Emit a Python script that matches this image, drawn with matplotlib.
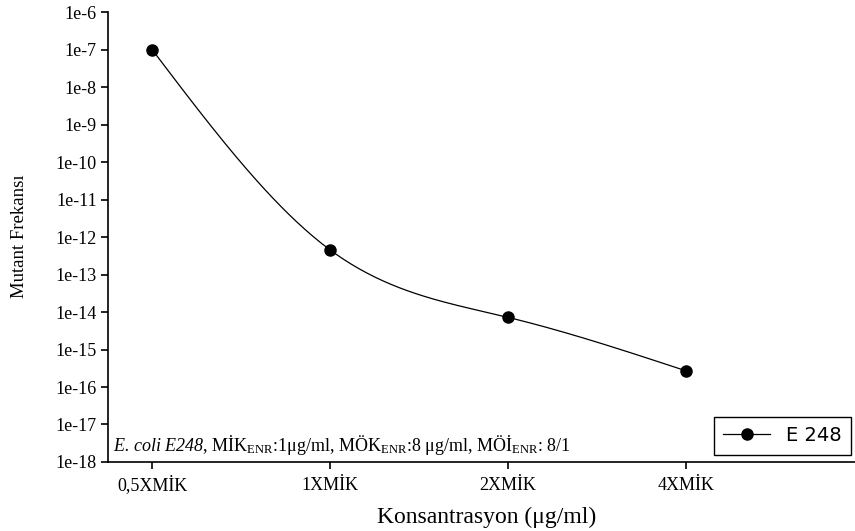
import numpy as np
import matplotlib
matplotlib.use('Agg')
import matplotlib.pyplot as plt
from matplotlib.ticker import FixedLocator, FixedFormatter

# data
konsantrasyon = ['0,5XMİK', '1XMİK', '2XMİK', '4XMİK']
frekans = [9.8e-8, 4.5e-13, 7.2e-15, 2.7e-16]
y_ticks = [10.0 ** -k for k in range(6, 19)]
y_labels = ['1e-%d' % k for k in range(6, 19)]


def natural_spline(x, y, n=200):
    # smooth connecting line (natural cubic spline) through the points
    x = np.asarray(x, float)
    y = np.asarray(y, float)
    m = len(x)
    h = np.diff(x)
    A = np.zeros((m, m))
    b = np.zeros(m)
    A[0, 0] = 1
    A[-1, -1] = 1
    for i in range(1, m - 1):
        A[i, i - 1] = h[i - 1]
        A[i, i] = 2 * (h[i - 1] + h[i])
        A[i, i + 1] = h[i]
        b[i] = 3 * ((y[i + 1] - y[i]) / h[i] - (y[i] - y[i - 1]) / h[i - 1])
    c = np.linalg.solve(A, b)
    xs = np.linspace(x[0], x[-1], n)
    ys = np.empty_like(xs)
    for j, xv in enumerate(xs):
        i = min(np.searchsorted(x, xv, side='right') - 1, m - 2)
        bi = (y[i + 1] - y[i]) / h[i] - h[i] * (2 * c[i] + c[i + 1]) / 3
        di = (c[i + 1] - c[i]) / (3 * h[i])
        t = xv - x[i]
        ys[j] = y[i] + bi * t + c[i] * t ** 2 + di * t ** 3
    return xs, ys


plt.rcParams['mathtext.fontset'] = 'custom'
plt.rcParams['mathtext.rm'] = 'Liberation Serif'
plt.rcParams['mathtext.it'] = 'Liberation Serif:italic'
# cal slot used for the italic strain name so that digits stay italic too
plt.rcParams['mathtext.cal'] = 'Liberation Serif:italic'

fig = plt.figure(figsize=(8.55, 5.31), dpi=100)
ax = fig.add_axes([0.1263, 0.130, 0.8737, 0.847])

xpos = np.arange(len(konsantrasyon))
xs, ys = natural_spline(xpos, np.log10(frekans))
ax.plot(xs, 10 ** ys, color='black', lw=0.9)
ax.plot(xpos, frekans, 'o', color='black', ms=8)
# legend handle
ax.plot([], [], '-o', color='black', lw=0.9, ms=8, label='E 248')

ax.set_yscale('log')
ax.set_ylim(1e-18, 1e-6)
ax.set_xlim(-0.25, 3.95)
ax.yaxis.set_major_locator(FixedLocator(y_ticks))
ax.yaxis.set_major_formatter(FixedFormatter(y_labels))
ax.yaxis.set_minor_locator(FixedLocator([]))
ax.set_xticks(xpos)
ax.set_xticklabels(konsantrasyon)

for s in ['top', 'right']:
    ax.spines[s].set_visible(False)
for s in ['left', 'bottom']:
    ax.spines[s].set_linewidth(1.2)
ax.tick_params(direction='out', length=5, width=1.2, labelsize=13, pad=3)
ax.tick_params(axis='x', pad=15)
for lab in ax.get_xticklabels():
    lab.set_va('baseline')
for lab in ax.get_xticklabels() + ax.get_yticklabels():
    lab.set_family('Liberation Serif')

ax.set_xlabel('Konsantrasyon (μg/ml)', family='Liberation Serif', fontsize=17, va='center')
ax.xaxis.set_label_coords((487 - 108) / 747, (462 - 517) / 450)
fig.text(20 / 855, 1 - 236 / 531, 'Mutant Frekansı', rotation=90, family='Liberation Serif',
         fontsize=13.5, ha='center', va='center')

ax.text(0.007, 0.012,
        r'$\mathcal{E.\,coli\ E248}$, MİK$_{\mathrm{ENR}}$:1μg/ml, MÖK$_{\mathrm{ENR}}$:8 μg/ml, MÖİ$_{\mathrm{ENR}}$: 8/1',
        transform=ax.transAxes, family='Liberation Serif', fontsize=13, ha='left', va='bottom')

leg = ax.legend(loc='lower right', bbox_to_anchor=(0.9946, 0.0156), fancybox=False,
                edgecolor='black', framealpha=1, prop={'family': 'DejaVu Sans', 'size': 14},
                handlelength=2.4, handletextpad=0.8, borderpad=0.5, borderaxespad=0)
leg.get_frame().set_linewidth(1.0)

plt.savefig('out.png', dpi=100)
